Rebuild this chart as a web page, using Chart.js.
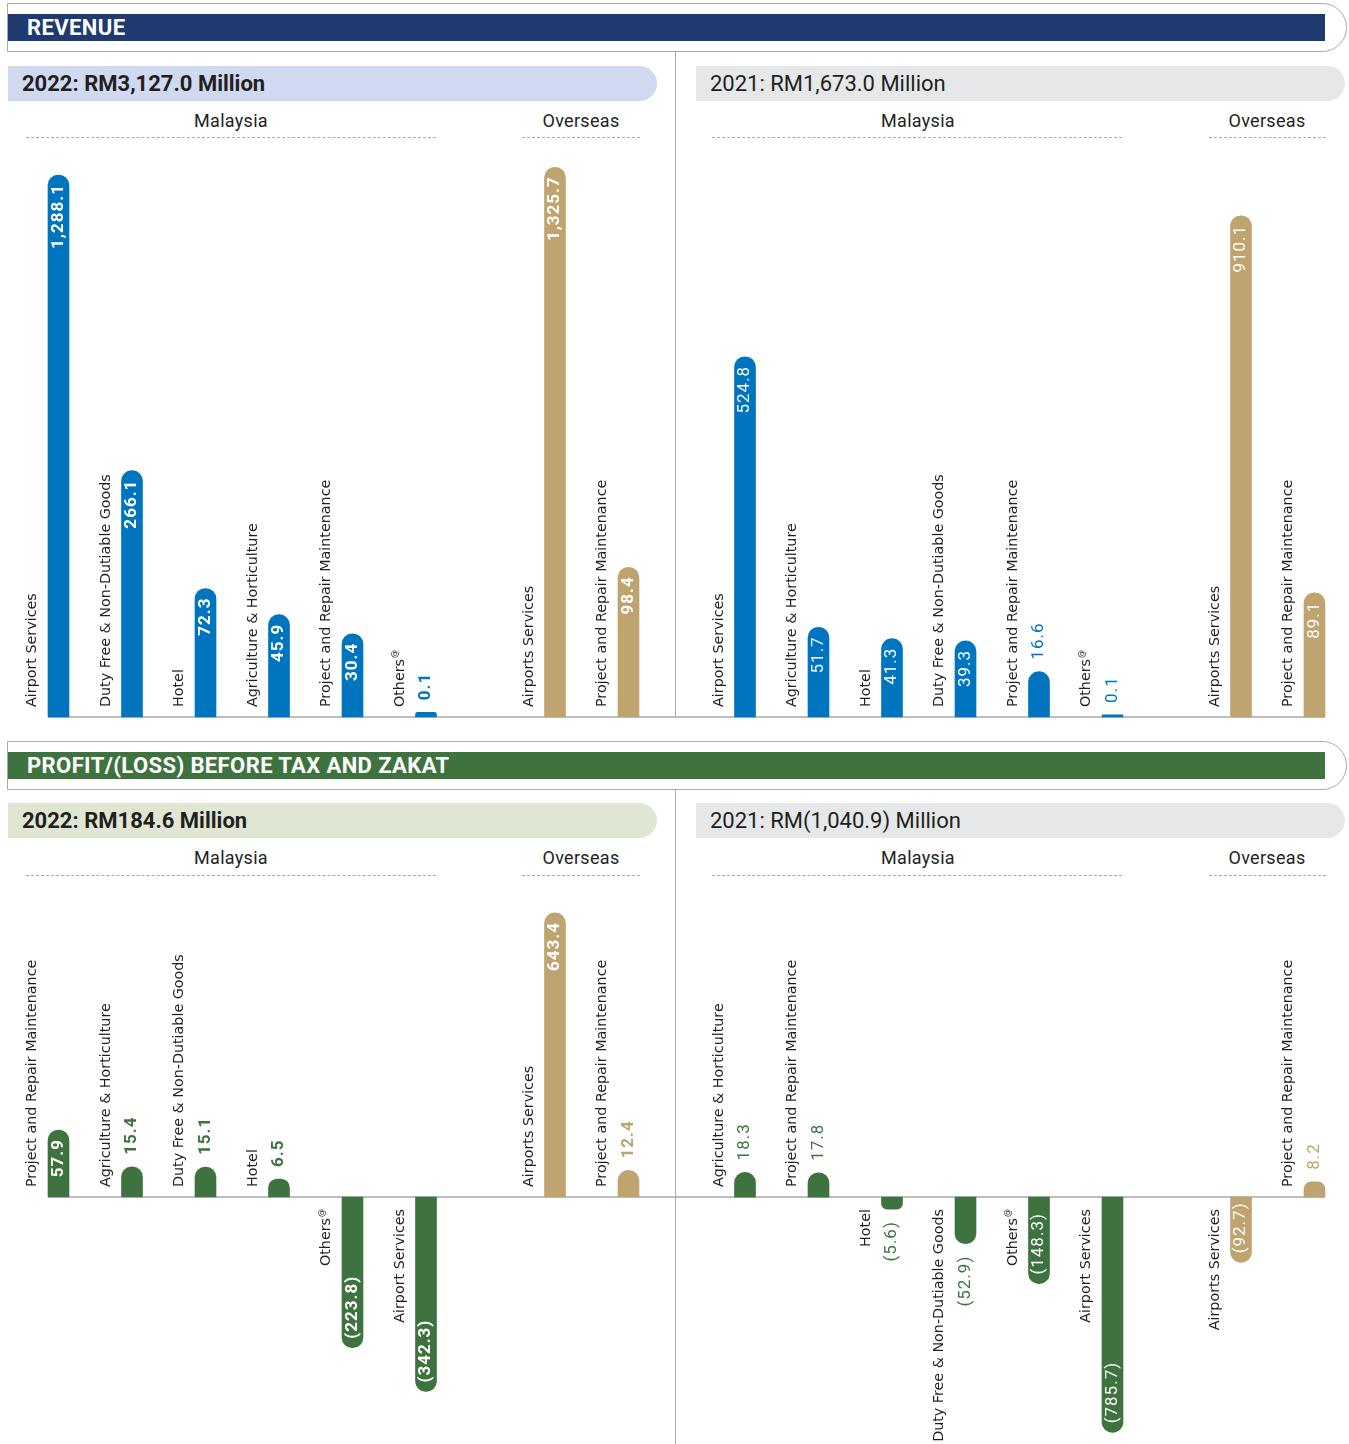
<!DOCTYPE html>
<html>
<head>
<meta charset="utf-8">
<script src="https://cdn.jsdelivr.net/npm/chart.js@4.4.1/dist/chart.umd.min.js"></script>
<style>
html,body{margin:0;padding:0;background:#fff;}
body{width:1349px;height:1444px;position:relative;overflow:hidden;font-family:Roboto,"DejaVu Sans",sans-serif;}
.frame{position:absolute;left:7px;width:1340px;height:49px;border:1px solid #a7a9ac;border-radius:0 25px 25px 0;box-sizing:border-box;}
.band{position:absolute;left:8px;width:1317px;height:27px;color:#fff;font-weight:700;font-size:22px;line-height:27px;padding-left:19px;box-sizing:border-box;letter-spacing:0.4px;}
.pill{position:absolute;height:35px;width:649px;border-radius:0 17.5px 17.5px 0;font-size:22px;line-height:36px;padding-left:14px;box-sizing:border-box;color:#231f20;white-space:nowrap;}
.grp{position:absolute;font-size:18px;line-height:20px;color:#231f20;transform:translateX(-50%);white-space:nowrap;letter-spacing:0.3px;}
.dash{position:absolute;height:0;border-top:1px dashed #a7a9ac;}
.vline{position:absolute;left:675px;width:1px;background:#a7a9ac;z-index:5;}
canvas{position:absolute;}
</style>
</head>
<body>
<div class="frame" style="top:3px"></div>
<div class="band" style="top:14px;background:#1e3a6e">REVENUE</div>
<div class="frame" style="top:741px"></div>
<div class="band" style="top:752px;background:#3e7340">PROFIT/(LOSS) BEFORE TAX AND ZAKAT</div>

<div class="pill" id="t1" style="left:8px;top:66px;background:#cfdaf0;font-weight:700"></div>
<div class="pill" id="t2" style="left:696px;top:66px;background:#e6e7e8"></div>
<div class="pill" id="t3" style="left:8px;top:803px;background:#dfe7d3;font-weight:700"></div>
<div class="pill" id="t4" style="left:696px;top:803px;background:#e6e7e8"></div>

<div class="grp g1" style="left:231px;top:111px"></div>
<div class="grp g2" style="left:581px;top:111px"></div>
<div class="grp g1" style="left:918px;top:111px"></div>
<div class="grp g2" style="left:1267px;top:111px"></div>
<div class="grp g1" style="left:231px;top:848px"></div>
<div class="grp g2" style="left:581px;top:848px"></div>
<div class="grp g1" style="left:918px;top:848px"></div>
<div class="grp g2" style="left:1267px;top:848px"></div>

<div class="dash" style="left:26px;width:410px;top:137px"></div>
<div class="dash" style="left:522px;width:118px;top:137px"></div>
<div class="dash" style="left:712px;width:410px;top:137px"></div>
<div class="dash" style="left:1209px;width:117px;top:137px"></div>
<div class="dash" style="left:26px;width:410px;top:875px"></div>
<div class="dash" style="left:522px;width:118px;top:875px"></div>
<div class="dash" style="left:712px;width:410px;top:875px"></div>
<div class="dash" style="left:1209px;width:117px;top:875px"></div>

<div class="vline" style="top:52px;height:665px"></div>
<div class="vline" style="top:790px;height:654px"></div>

<script>
// ---------- DATA ----------
const panelTitles = ['2022: RM3,127.0 Million', '2021: RM1,673.0 Million', '2022: RM184.6 Million', '2021: RM(1,040.9) Million'];
const groupNames = ['Malaysia', 'Overseas'];

const rev2022MalaysiaLabels = ['Airport Services', 'Duty Free & Non-Dutiable Goods', 'Hotel', 'Agriculture & Horticulture', 'Project and Repair Maintenance', 'Others@'];
const rev2022MalaysiaValues = [1288.1, 266.1, 72.3, 45.9, 30.4, 0.1];
const rev2022OverseasLabels = ['Airports Services', 'Project and Repair Maintenance'];
const rev2022OverseasValues = [1325.7, 98.4];

const rev2021MalaysiaLabels = ['Airport Services', 'Agriculture & Horticulture', 'Hotel', 'Duty Free & Non-Dutiable Goods', 'Project and Repair Maintenance', 'Others@'];
const rev2021MalaysiaValues = [524.8, 51.7, 41.3, 39.3, 16.6, 0.1];
const rev2021OverseasLabels = ['Airports Services', 'Project and Repair Maintenance'];
const rev2021OverseasValues = [910.1, 89.1];

const pbt2022MalaysiaLabels = ['Project and Repair Maintenance', 'Agriculture & Horticulture', 'Duty Free & Non-Dutiable Goods', 'Hotel', 'Others@', 'Airport Services'];
const pbt2022MalaysiaValues = [57.9, 15.4, 15.1, 6.5, -223.8, -342.3];
const pbt2022OverseasLabels = ['Airports Services', 'Project and Repair Maintenance'];
const pbt2022OverseasValues = [643.4, 12.4];

const pbt2021MalaysiaLabels = ['Agriculture & Horticulture', 'Project and Repair Maintenance', 'Hotel', 'Duty Free & Non-Dutiable Goods', 'Others@', 'Airport Services'];
const pbt2021MalaysiaValues = [18.3, 17.8, -5.6, -52.9, -148.3, -785.7];
const pbt2021OverseasLabels = ['Airports Services', 'Project and Repair Maintenance'];
const pbt2021OverseasValues = [-92.7, 8.2];

// ---------- STYLE ----------
const BLUE = '#0075bf', GOLD = '#c0a46f', GREEN = '#3e7340';

['t1','t2','t3','t4'].forEach((id, i) => document.getElementById(id).textContent = panelTitles[i]);
document.querySelectorAll('.g1').forEach(e => e.textContent = groupNames[0]);
document.querySelectorAll('.g2').forEach(e => e.textContent = groupNames[1]);

// power (non-linear) value scale, as the printed chart is not drawn to linear scale
class PowerScale extends Chart.LinearScale {
  static id = 'power';
  static defaults = Chart.LinearScale.defaults;
  _tf(v) { const e = this.options.exponent || 0.5; return Math.sign(v) * Math.pow(Math.abs(v), e); }
  _itf(t) { const e = this.options.exponent || 0.5; return Math.sign(t) * Math.pow(Math.abs(t), 1 / e); }
  getPixelForValue(value) {
    const a = this._tf(this.min), b = this._tf(this.max);
    return this.getPixelForDecimal((this._tf(value) - a) / (b - a));
  }
  getValueForPixel(pixel) {
    const a = this._tf(this.min), b = this._tf(this.max);
    return this._itf(a + this.getDecimalForPixel(pixel) * (b - a));
  }
}
Chart.register(PowerScale);

function fmt(v) {
  const s = Math.abs(v).toLocaleString('en-US', {minimumFractionDigits: 1, maximumFractionDigits: 1});
  return v < 0 ? '(' + s + ')' : s;
}

const CAT_FONT = '14.3px "DejaVu Sans"', SUP_FONT = '8px "DejaVu Sans"';

function drawCat(ctx, text, x, y, up) {
  ctx.save();
  ctx.translate(x, y);
  ctx.rotate(-Math.PI / 2);
  ctx.textBaseline = 'middle';
  ctx.textAlign = 'left';
  const sup = text.endsWith('@');
  const main = sup ? text.slice(0, -1) : text;
  ctx.font = CAT_FONT;
  const w1 = ctx.measureText(main).width;
  let w2 = 0;
  if (sup) { ctx.font = SUP_FONT; w2 = ctx.measureText('@').width + 1; }
  const start = up ? 0 : -(w1 + w2);
  ctx.fillStyle = '#231f20';
  ctx.font = CAT_FONT;
  ctx.fillText(main, start, 0);
  if (sup) { ctx.font = SUP_FONT; ctx.fillText('@', start + w1 + 1, -5); }
  ctx.restore();
}

function drawVal(ctx, text, x, y, align, font, color) {
  ctx.save();
  ctx.translate(x, y);
  ctx.rotate(-Math.PI / 2);
  ctx.font = font;
  ctx.letterSpacing = '1px';
  ctx.fillStyle = color;
  ctx.textAlign = align;
  ctx.textBaseline = 'middle';
  ctx.fillText(text, 0, 0);
  ctx.restore();
}

const barLabels = {
  id: 'barLabels',
  beforeDatasetsDraw(chart, args, o) {
    const ctx = chart.ctx;
    const y = chart.scales.y.getPixelForValue(0);
    const meta = chart.getDatasetMeta(0);
    const first = meta.data[0], last = meta.data[meta.data.length - 1];
    const x0 = o.lineStart ? first.x - first.width / 2 : 0;
    const x1 = o.lineEnd ? last.x + last.width / 2 : chart.width;
    ctx.save();
    ctx.strokeStyle = '#a7a9ac';
    ctx.lineWidth = 1.5;
    ctx.beginPath(); ctx.moveTo(x0, y); ctx.lineTo(x1, y); ctx.stroke();
    ctx.restore();
  },
  afterDatasetsDraw(chart, args, o) {
    const ctx = chart.ctx;
    const zeroY = chart.scales.y.getPixelForValue(0);
    const meta = chart.getDatasetMeta(0);
    const ds = chart.data.datasets[0];
    meta.data.forEach((bar, i) => {
      const v = ds.data[i];
      const p = bar.getProps(['x', 'y', 'base'], true);
      drawCat(ctx, chart.data.labels[i], p.x - 26, v >= 0 ? zeroY - 10 : zeroY + 12, v >= 0);
      const text = fmt(v);
      ctx.save(); ctx.font = o.font; ctx.letterSpacing = '1px';
      const tw = ctx.measureText(text).width; ctx.restore();
      const len = Math.abs(p.base - p.y);
      const inside = len >= tw + 14;
      if (v >= 0) {
        if (inside) drawVal(ctx, text, p.x, p.y + 9, 'right', o.font, '#ffffff');
        else drawVal(ctx, text, p.x, p.y - 12, 'left', o.font, ds.backgroundColor);
      } else {
        if (inside) drawVal(ctx, text, p.x, p.y - 9, 'left', o.font, '#ffffff');
        else drawVal(ctx, text, p.x, p.y + 12, 'right', o.font, ds.backgroundColor);
      }
    });
  }
};

function makeChart(s) {
  const c = document.createElement('canvas');
  c.width = s.w; c.height = s.h;
  c.style.left = s.x + 'px'; c.style.top = s.y + 'px';
  c.style.width = s.w + 'px'; c.style.height = s.h + 'px';
  document.body.appendChild(c);
  return new Chart(c, {
    type: 'bar',
    data: {
      labels: s.labels,
      datasets: [{data: s.values, backgroundColor: s.color, borderRadius: 11, borderSkipped: 'start', barThickness: 21, clip: false}]
    },
    options: {
      responsive: false, animation: false, devicePixelRatio: 1,
      layout: {padding: s.pad},
      plugins: {
        legend: {display: false}, tooltip: {enabled: false},
        barLabels: {font: s.font, lineStart: !!s.lineStart, lineEnd: !!s.lineEnd}
      },
      scales: {
        x: {type: 'category', offset: false, display: false},
        y: {type: 'power', exponent: s.exp, min: s.min, max: s.max, display: false}
      }
    },
    plugins: [barLabels]
  });
}

const BOLD = '700 17px Roboto', REG = '400 17px Roboto';
const REV = {y: 140, h: 585, top: 10, bottom: 8};
const PBT = {y: 880, h: 564, top: 20, bottom: 4};

function row(R, spec) {
  return makeChart(Object.assign({y: R.y, h: R.h}, spec, {pad: {left: spec.pl, right: spec.pr, top: R.top, bottom: R.bottom}}));
}

// Revenue 2022
row(REV, {x: 8, w: 482, pl: 50.5, pr: 64, labels: rev2022MalaysiaLabels, values: rev2022MalaysiaValues, color: BLUE, font: BOLD, exp: 0.5, min: 0, max: 1410, lineStart: true});
row(REV, {x: 490, w: 186, pl: 65, pr: 47.5, labels: rev2022OverseasLabels, values: rev2022OverseasValues, color: GOLD, font: BOLD, exp: 0.5, min: 0, max: 1410});
// Revenue 2021
row(REV, {x: 676, w: 500, pl: 69, pr: 63.5, labels: rev2021MalaysiaLabels, values: rev2021MalaysiaValues, color: BLUE, font: REG, exp: 0.6, min: 0, max: 1118});
row(REV, {x: 1176, w: 173, pl: 65, pr: 34.5, labels: rev2021OverseasLabels, values: rev2021OverseasValues, color: GOLD, font: REG, exp: 0.6, min: 0, max: 1118, lineEnd: true});
// PBT 2022
row(PBT, {x: 8, w: 482, pl: 50.5, pr: 64, labels: pbt2022MalaysiaLabels, values: pbt2022MalaysiaValues, color: GREEN, font: BOLD, exp: 0.6, min: -496, max: 693, lineStart: true});
row(PBT, {x: 490, w: 186, pl: 65, pr: 47.5, labels: pbt2022OverseasLabels, values: pbt2022OverseasValues, color: GOLD, font: BOLD, exp: 0.6, min: -496, max: 693});
// PBT 2021
row(PBT, {x: 676, w: 500, pl: 69, pr: 63.5, labels: pbt2021MalaysiaLabels, values: pbt2021MalaysiaValues, color: GREEN, font: REG, exp: 0.6, min: -829, max: 1159});
row(PBT, {x: 1176, w: 173, pl: 65, pr: 34.5, labels: pbt2021OverseasLabels, values: pbt2021OverseasValues, color: GOLD, font: REG, exp: 0.6, min: -829, max: 1159, lineEnd: true});
</script>
</body>
</html>
